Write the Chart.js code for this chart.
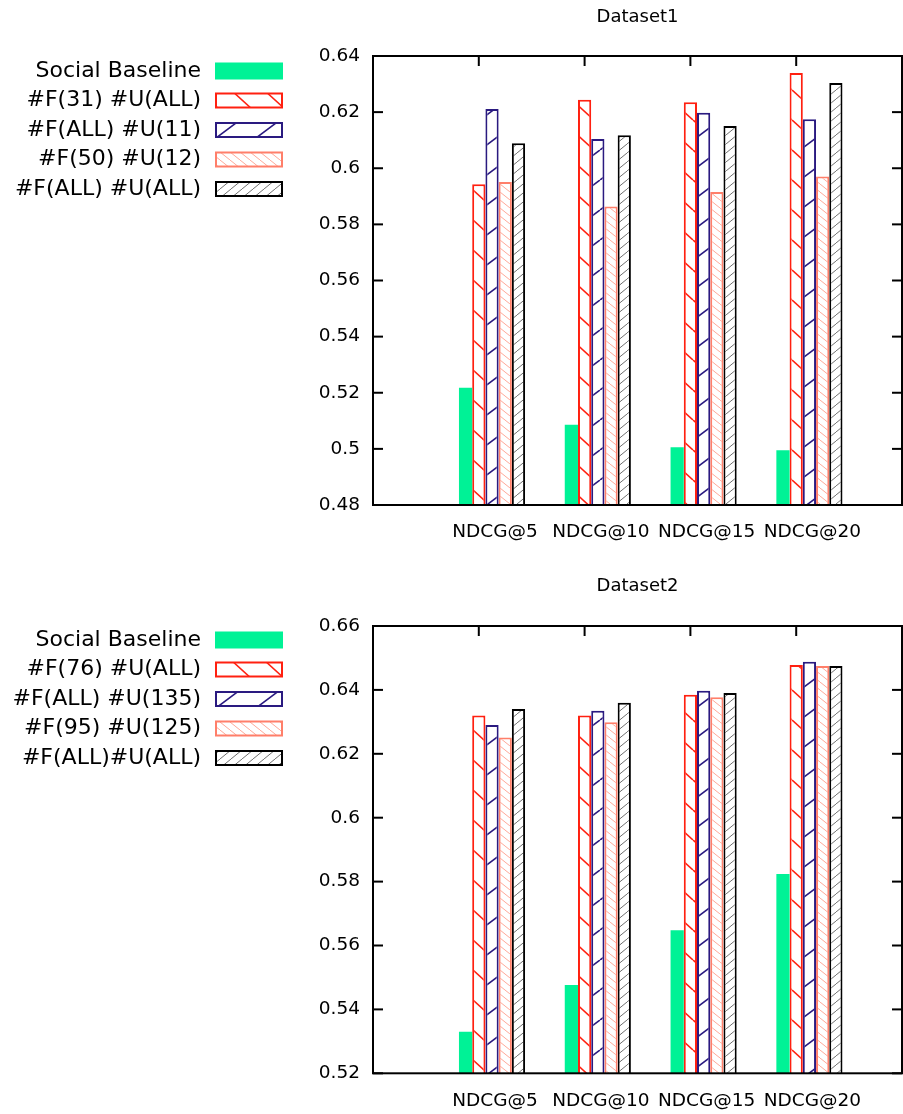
<!DOCTYPE html>
<html><head><meta charset="utf-8">
<script src="https://cdn.jsdelivr.net/npm/chart.js@4.4.1/dist/chart.umd.min.js"></script>
<style>
html,body{margin:0;padding:0;background:#fff;width:903px;height:1114px;overflow:hidden;}
canvas{position:absolute;left:0;}
#c1{top:0}
#c2{top:570px}
</style></head><body>
<canvas id="c1" width="903" height="560"></canvas>
<canvas id="c2" width="903" height="544"></canvas>
<script>
// ---------- data ----------
const categories = ['NDCG@5', 'NDCG@10', 'NDCG@15', 'NDCG@20'];

const title1 = 'Dataset1';
const labels1 = ['Social Baseline', '#F(31) #U(ALL)', '#F(ALL) #U(11)', '#F(50) #U(12)', '#F(ALL) #U(ALL)'];
const d1Social   = [0.5218, 0.5086, 0.5006, 0.4995];
const d1F31UAll  = [0.5943, 0.6244, 0.6235, 0.6339];
const d1FAllU11  = [0.6211, 0.6104, 0.6198, 0.6175];
const d1F50U12   = [0.5951, 0.5864, 0.5915, 0.5971];
const d1FAllUAll = [0.6089, 0.6118, 0.6151, 0.6304];
const yTicks1 = [0.48, 0.50, 0.52, 0.54, 0.56, 0.58, 0.60, 0.62, 0.64];

const title2 = 'Dataset2';
const labels2 = ['Social Baseline', '#F(76) #U(ALL)', '#F(ALL) #U(135)', '#F(95) #U(125)', '#F(ALL)#U(ALL)'];
const d2Social   = [0.5330, 0.5476, 0.5648, 0.5824];
const d2F76UAll  = [0.6320, 0.6320, 0.6385, 0.6478];
const d2FAllU135 = [0.6290, 0.6335, 0.6397, 0.6488];
const d2F95U125  = [0.6251, 0.6299, 0.6377, 0.6475];
const d2FAllUAll = [0.6340, 0.6360, 0.6390, 0.6475];
const yTicks2 = [0.52, 0.54, 0.56, 0.58, 0.60, 0.62, 0.64, 0.66];

// ---------- styles ----------
const FONT = '"DejaVu Sans", Verdana, sans-serif';
function hatch(color, w, h, lw, dir) {
  const c = document.createElement('canvas');
  c.width = w; c.height = h;
  const g = c.getContext('2d');
  g.fillStyle = '#ffffff'; g.fillRect(0, 0, w, h);
  g.strokeStyle = color; g.lineWidth = lw;
  for (const dx of [-w, 0, w]) {
    g.beginPath();
    if (dir === 'down') { g.moveTo(dx, 0); g.lineTo(dx + w, h); }
    else { g.moveTo(dx, h); g.lineTo(dx + w, 0); }
    g.stroke();
  }
  return g.createPattern(c, 'repeat');
}
const borders = ['#00f296', '#ff2010', '#2a1a80', '#ff7f6a', '#000000'];
const fills = [
  '#00f296',
  hatch('#ff2010', 33, 30, 1.6, 'down'),
  hatch('#2a1a80', 40, 30, 1.6, 'up'),
  hatch('#ffa898', 10, 8, 1, 'down'),
  hatch('#707070', 11, 9, 1, 'up')
];

// ---------- plugin: gnuplot-style frame, title, legend ----------
const gnuPlugin = {
  id: 'gnuFrame',
  afterDatasetsDraw(chart, args, opts) {
    const ctx = chart.ctx, a = chart.chartArea;
    ctx.save();
    ctx.strokeStyle = '#000'; ctx.lineWidth = 2;
    const line = (x1, y1, x2, y2) => { ctx.beginPath(); ctx.moveTo(x1, y1); ctx.lineTo(x2, y2); ctx.stroke(); };
    const ys = chart.scales.y;
    ys.ticks.forEach(t => {
      const y = ys.getPixelForValue(t.value);
      line(a.left, y, a.left + 10, y);
      line(a.right - 10, y, a.right, y);
    });
    // top ticks at the centre of the 2nd bar of each cluster (gnuplot tick position)
    chart.getDatasetMeta(1).data.forEach(b => line(b.x, a.top, b.x, a.top + 10));
    ctx.strokeRect(a.left, a.top, a.right - a.left, a.bottom - a.top);
    ctx.restore();
  },
  afterDraw(chart, args, opts) {
    const ctx = chart.ctx, a = chart.chartArea;
    ctx.save();
    ctx.fillStyle = '#000';
    ctx.font = '18px ' + FONT;
    ctx.textAlign = 'center'; ctx.textBaseline = 'middle';
    ctx.fillText(opts.title, (a.left + a.right) / 2, opts.titleY);
    chart.data.datasets.forEach((ds, k) => {
      const y = opts.legendY + k * opts.legendStep;
      ctx.font = '22px ' + FONT;
      ctx.textAlign = 'right'; ctx.textBaseline = 'middle';
      ctx.fillStyle = '#000';
      ctx.fillText(ds.label, 201, y);
      if (ds.borderWidth) {
        ctx.fillStyle = ds.backgroundColor;
        ctx.fillRect(216, y - 7, 66, 14);
        ctx.strokeStyle = ds.borderColor; ctx.lineWidth = 2;
        ctx.strokeRect(216, y - 7, 66, 14);
      } else {
        ctx.fillStyle = ds.backgroundColor;
        ctx.fillRect(215, y - 8.5, 68, 17);
      }
    });
    ctx.restore();
  }
};

function makeChart(id, title, labels, series, yTicks, geom) {
  const datasets = series.map((vals, k) => ({
    label: labels[k],
    data: categories.map((c, i) => ({ x: i, y: vals[i] })),
    backgroundColor: fills[k],
    borderColor: borders[k],
    borderWidth: k === 0 ? 0 : 2,
    borderSkipped: false,
    categoryPercentage: 0.625,
    barPercentage: 1
  }));
  const zeroPad = s => { s.paddingLeft = 0; s.paddingRight = 0; s.paddingTop = 0; s.paddingBottom = 0; };
  return new Chart(document.getElementById(id), {
    type: 'bar',
    data: { datasets },
    options: {
      responsive: false, animation: false, devicePixelRatio: 1,
      layout: { padding: { top: geom.top, right: 1, left: 0, bottom: 0 } },
      plugins: {
        legend: { display: false }, tooltip: { enabled: false }, title: { display: false },
        gnuFrame: { title, titleY: geom.titleY, legendY: geom.legendY, legendStep: 29.5 }
      },
      scales: {
        x: {
          type: 'linear', min: -1.125, max: 3.875, offset: false,
          grid: { display: false, drawTicks: false, offset: false }, border: { display: false },
          afterBuildTicks: s => { s.ticks = categories.map((c, i) => ({ value: i })); },
          afterFit: s => { s.height = geom.xHeight; zeroPad(s); },
          ticks: {
            autoSkip: false, maxRotation: 0, minRotation: 0, padding: geom.xPad, labelOffset: 3,
            color: '#000', font: { family: FONT, size: 18.5 },
            callback: v => categories[v] ?? ''
          }
        },
        y: {
          min: yTicks[0], max: yTicks[yTicks.length - 1],
          grid: { display: false, drawTicks: false }, border: { display: false },
          afterBuildTicks: s => { s.ticks = yTicks.map(v => ({ value: v })); },
          afterFit: s => { s.width = 373; zeroPad(s); },
          ticks: {
            padding: 13, color: '#000', font: { family: FONT, size: 18.5 },
            callback: v => String(+Number(v).toFixed(2))
          }
        }
      }
    },
    plugins: [gnuPlugin]
  });
}

makeChart('c1', title1, labels1, [d1Social, d1F31UAll, d1FAllU11, d1F50U12, d1FAllUAll], yTicks1,
  { top: 56, xHeight: 55, xPad: 16, titleY: 17, legendY: 71 });
makeChart('c2', title2, labels2, [d2Social, d2F76UAll, d2FAllU135, d2F95U125, d2FAllUAll], yTicks2,
  { top: 56, xHeight: 40.7, xPad: 16.5, titleY: 16, legendY: 70 });
</script>
</body></html>
